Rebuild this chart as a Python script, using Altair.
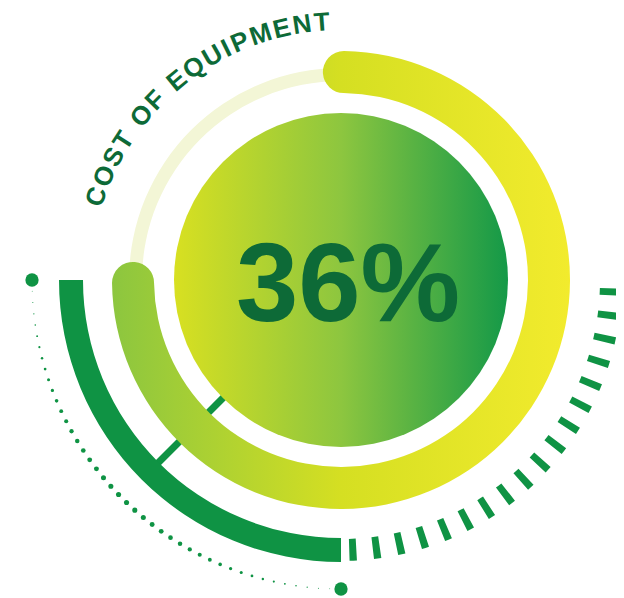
import math
import numpy as np
import pandas as pd
import altair as alt

# ---------------- data ----------------
TITLE = "COST OF EQUIPMENT"
VALUE_LABEL = "36%"

PROGRESS_START_DEG = -5      # main gradient ring (clockwise from 12 o'clock)
PROGRESS_END_DEG = 275
TRACK_START_DEG = 270        # pale remainder track
TRACK_END_DEG = 360
BRACKET_START_DEG = 180      # dark green quarter arc
BRACKET_END_DEG = 270
CONNECTOR_DEG = 225
TICK_ANGLES_DEG = [92.5, 97.5, 102.5, 107.5, 112.5, 117.5, 122.5, 127.5, 132.5,
                   137.5, 142.5, 147.5, 152.5, 157.5, 162.5, 167.5, 172.5, 177.5]
DOT_COUNT = 42               # small dots between the two end dots
DOT_ARC_DEG = [270, 180]

# ---------------- layout ----------------
W, H = 608, 590
CX, CY = 333, 272
DARK = "#0f9344"
TEXT_DARK = "#0d6a37"

def rad(d):
    return d * math.pi / 180.0

xs = alt.Scale(domain=[0, W], range=[0, W])
ys = alt.Scale(domain=[0, H], range=[0, H])

ring_grad = alt.Gradient(
    gradient="linear", x1=0, y1=0, x2=1, y2=0,
    stops=[alt.GradientStop(offset=0, color="#8cc63f"),
           alt.GradientStop(offset=0.5, color="#d5df22"),
           alt.GradientStop(offset=1, color="#f2eb2d")])
disc_grad = alt.Gradient(
    gradient="linear", x1=0, y1=0, x2=1, y2=0,
    stops=[alt.GradientStop(offset=0, color="#d8e021"),
           alt.GradientStop(offset=0.5, color="#8dc63f"),
           alt.GradientStop(offset=1, color="#149948")])

def arc_layer(df, inner, outer, color, corner=0):
    return alt.Chart(df).mark_arc(
        innerRadius=inner, outerRadius=outer, cornerRadius=corner, color=color
    ).encode(
        theta=alt.Theta("a0:Q", scale=None, stack=None),
        theta2="a1:Q",
        x=alt.value(CX), y=alt.value(CY),
    )

track = arc_layer(pd.DataFrame({"a0": [rad(TRACK_START_DEG)], "a1": [rad(TRACK_END_DEG)]}),
                  199, 212, "#f3f6d6")

# connector line
conn_r = [150, 262]
conn = pd.DataFrame({
    "x": [CX + conn_r[0] * math.sin(rad(CONNECTOR_DEG))],
    "y": [CY - conn_r[0] * math.cos(rad(CONNECTOR_DEG))],
    "x2": [CX + conn_r[1] * math.sin(rad(CONNECTOR_DEG))],
    "y2": [CY - conn_r[1] * math.cos(rad(CONNECTOR_DEG))],
})
connector = alt.Chart(conn).mark_rule(color=DARK, strokeWidth=7).encode(
    x=alt.X("x:Q", scale=xs, axis=None), y=alt.Y("y:Q", scale=ys, axis=None),
    x2="x2:Q", y2="y2:Q")

ring = arc_layer(pd.DataFrame({"a0": [rad(PROGRESS_START_DEG)], "a1": [rad(PROGRESS_END_DEG)]}),
                 187, 229, ring_grad, corner=21)

disc = arc_layer(pd.DataFrame({"a0": [0.0], "a1": [2 * math.pi]}), 0, 167, disc_grad)

bracket = arc_layer(pd.DataFrame({"a0": [rad(BRACKET_START_DEG)], "a1": [rad(BRACKET_END_DEG)]}),
                    258, 282, DARK)

ticks = arc_layer(pd.DataFrame({"a0": [rad(a - 0.75) for a in TICK_ANGLES_DEG],
                                "a1": [rad(a + 0.75) for a in TICK_ANGLES_DEG]}),
                  259, 281, DARK)

# dotted arc
n = DOT_COUNT + 2
ang = np.linspace(DOT_ARC_DEG[0], DOT_ARC_DEG[1], n)
t = np.linspace(0, 1, n)
diam = 0.8 + 5.0 * np.sin(np.pi * t) ** 1.3
size = np.pi * (diam / 2) ** 2
size[0] = size[-1] = math.pi * 7.5 ** 2
dots_df = pd.DataFrame({
    "x": CX + 309 * np.sin(np.radians(ang)),
    "y": CY - 309 * np.cos(np.radians(ang)),
    "s": size,
})
dots = alt.Chart(dots_df).mark_circle(color=DARK, opacity=1).encode(
    x=alt.X("x:Q", scale=xs, axis=None), y=alt.Y("y:Q", scale=ys, axis=None),
    size=alt.Size("s:Q", scale=None, legend=None))

# curved title
widths = {"C": .722, "O": .778, "S": .667, "T": .611, " ": .278, "F": .611, "E": .667,
          "Q": .778, "U": .722, "I": .278, "P": .667, "M": .833, "N": .722}
FS = 26
LS = 3.0
centers = []
pos = 0.0
for ch in TITLE:
    w = widths[ch] * FS
    centers.append(pos + w / 2)
    pos += w + LS
c0, c1 = centers[0], centers[-1]
T0, T1 = 288.8, 355.75
letter_deg = [T0 + (c - c0) / (c1 - c0) * (T1 - T0) for c in centers]
letters = pd.DataFrame({
    "ch": list(TITLE),
    "th": [rad(d) for d in letter_deg],
    "rot": [d % 360 for d in letter_deg],
})
letters = letters[letters.ch != " "]
title = alt.Chart(letters).mark_text(
    font="Liberation Sans", fontWeight="bold", fontSize=FS, color=TEXT_DARK,
    align="center", baseline="middle"
).encode(
    text="ch:N",
    theta=alt.Theta("th:Q", scale=None, stack=None),
    radius=alt.value(258),
    angle=alt.Angle("rot:Q", scale=None),
    x=alt.value(CX), y=alt.value(CY),
)

value = alt.Chart(pd.DataFrame({"label": [VALUE_LABEL]})).mark_text(
    font="Liberation Sans", fontWeight="bold", fontSize=112, color=TEXT_DARK,
    align="center", baseline="alphabetic"
).encode(text="label:N", x=alt.value(340), y=alt.value(312.5))

chart = alt.layer(track, connector, ring, disc, bracket, ticks, dots, title, value).properties(
    width=W, height=H, padding=0, autosize="none", background="white"
).configure_view(stroke=None)

chart.save("out.html", embed_options={"renderer": "svg", "actions": False})
